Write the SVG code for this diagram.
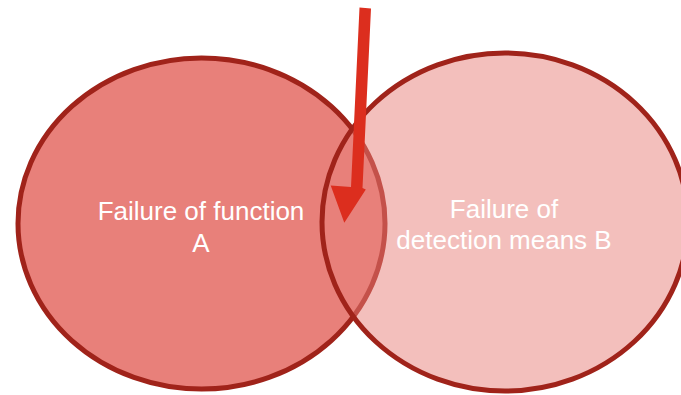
<svg xmlns="http://www.w3.org/2000/svg" width="681" height="395" viewBox="0 0 681 395">
  <style>
    .set { stroke: #A0231A; stroke-width: 5; }
    .label { font-family: "Liberation Sans", Arial, sans-serif; font-size: 26px; fill: #FFFFFF; text-anchor: middle; }
  </style>
  <rect width="681" height="395" fill="#FFFFFF"/>

  <!-- Set A: failure of function -->
  <g id="set-a">
    <ellipse class="set" cx="201.5" cy="223.5" rx="183.5" ry="165.5" fill="#E8807A"/>
    <text class="label" x="201" y="220">Failure of function</text>
    <text class="label" x="201" y="251.5">A</text>
  </g>

  <!-- Set B: failure of detection means (translucent fill over A) -->
  <g id="set-b">
    <ellipse class="set" cx="505" cy="222" rx="183" ry="169" fill="#E8807A" fill-opacity="0.5"/>
    <text class="label" x="504" y="217.5">Failure of</text>
    <text class="label" x="504" y="248.5">detection means B</text>
  </g>

  <!-- Pointer into the overlap -->
  <g id="connectors">
    <polygon fill="#DC2E1E" points="359.5,7.5 371,8.5 362.5,188 365.8,189.5 344.3,222.7 330.7,185.5 351,187"/>
  </g>
</svg>
